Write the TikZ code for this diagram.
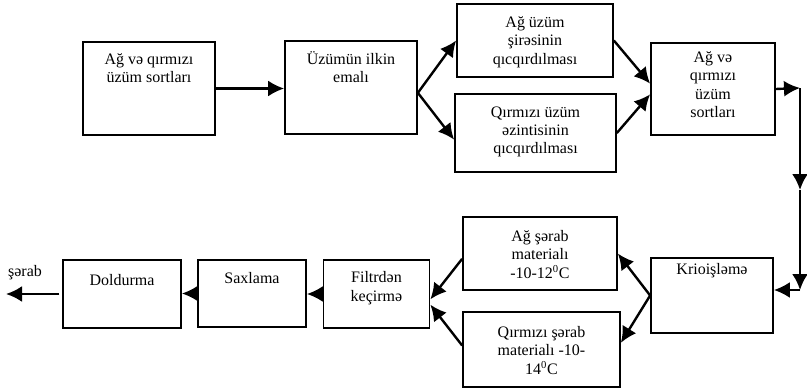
\documentclass[tikz,border=0pt]{standalone}
\usepackage{fontspec}
\setmainfont{Liberation Serif}
\usepackage{tikz}
\usetikzlibrary{arrows.meta,calc}

\tikzset{
  box/.style={draw, line width=1.3pt, rectangle, inner sep=0pt},
  txt/.style={anchor=north, align=center, font=\fontsize{12}{13.8}\selectfont, inner sep=0pt, execute at begin node={\strut}},
  arr/.style={line width=1.8pt, -{Latex[length=12pt,width=12pt]}}
}

\begin{document}
\begin{tikzpicture}[x=0.75pt,y=-0.75pt]
  \useasboundingbox (0,0) rectangle (807,389);

  % Top row
  \node[box, minimum width=99pt, minimum height=69.75pt] (sort1) at (149,88.5) {};
  \node[txt] (tsort1) at ([yshift=-9.1pt]sort1.north) {Ağ və qırmızı\\üzüm sortları};
  \node[box, minimum width=99pt, minimum height=69.75pt] (emal) at (351,87.5) {};
  \node[txt] (temal) at ([yshift=-8.3pt]emal.north) {Üzümün ilkin\\emalı};
  \node[box, minimum width=117pt, minimum height=54.75pt] (qaq) at (535,40.5) {};
  \node[txt] (tqaq) at ([yshift=-9.8pt]qaq.north) {Ağ üzüm\\şirəsinin\\qıcqırdılması};
  \node[box, minimum width=120.75pt, minimum height=58.5pt] (qqir) at (535.5,133) {};
  \node[txt] (tqqir) at ([yshift=-9.8pt]qqir.north) {Qırmızı üzüm\\əzintisinin\\qıcqırdılması};
  \node[box, minimum width=93pt, minimum height=69pt] (sort2) at (713,89) {};
  \node[txt] (tsort2) at ([yshift=-6.8pt]sort2.north) {Ağ və\\qırmızı\\üzüm\\sortları};

  % Bottom row
  \node[box, minimum width=91.5pt, minimum height=56.25pt] (krio) at (712,295.5) {};
  \node[txt] (tkrio) at ([yshift=-2.8pt]krio.north) {Krioişləmə};
  \node[box, minimum width=115.5pt, minimum height=54.75pt] (agmat) at (540,253.5) {};
  \node[txt] (tagmat) at ([yshift=-10.3pt]agmat.north) {Ağ şərab\\materialı\\-10-12\textsuperscript{0}C};
  \node[box, minimum width=117.75pt, minimum height=56.25pt] (qmat) at (541.5,349.5) {};
  \node[txt] (tqmat) at ([yshift=-11.3pt]qmat.north) {Qırmızı şərab\\materialı -10-\\14\textsuperscript{0}C};
  \node[box, minimum width=79.5pt, minimum height=51pt] (filtr) at (376.5,294) {};
  \node[txt] (tfiltr) at ([yshift=-9.3pt]filtr.north) {Filtrdən\\keçirmə};
  \node[box, minimum width=81pt, minimum height=50.25pt] (sax) at (252,293.5) {};
  \node[txt] (tsax) at ([yshift=-8.3pt]sax.north) {Saxlama};
  \node[box, minimum width=88.5pt, minimum height=51pt] (dold) at (122,294) {};
  \node[txt] (tdold) at ([yshift=-9.8pt]dold.north) {Doldurma};
  \node[txt, anchor=base] (serab) at (25,276) {şərab};

  % Free points
  \coordinate (j1) at ([yshift=-4pt]emal.east);
  \coordinate (r1) at (800,88);
  \coordinate (r2) at (800,190);
  \coordinate (r3) at (800,290);
  \coordinate (son) at (6,294);

  % Arrows
  \draw[arr] (sort1.east) -- (sort1.east -| emal.west);
  \draw[arr] (j1) -- (qaq.west);
  \draw[arr] (j1) -- ([yshift=-5pt]qqir.west);
  \draw[arr] (qaq.east) -- ([yshift=4pt]sort2.west);
  \draw[arr] (qqir.east) -- ([yshift=-4pt]sort2.west);
  \draw[arr] (sort2.east) -- (r1);
  \draw[arr] (r1) -- (r2);
  \draw[arr] (r2) -- (r3);
  \draw[arr] (r3) -- (r3 -| krio.east);
  \draw[arr] (krio.west) -- (agmat.east);
  \draw[arr] (krio.west) -- ([yshift=5pt]qmat.east);
  \draw[arr] ([yshift=-4pt]agmat.west) -- ([yshift=-4pt]filtr.east);
  \draw[arr] ([yshift=3pt]qmat.west) -- ([yshift=-8pt]filtr.east);
  \draw[arr] (filtr.west) -- (filtr.west -| sax.east);
  \draw[arr] (sax.west) -- (sax.west -| dold.east);
  \draw[arr, shorten <=2pt] (dold.west) -- (son);
\end{tikzpicture}
\end{document}
